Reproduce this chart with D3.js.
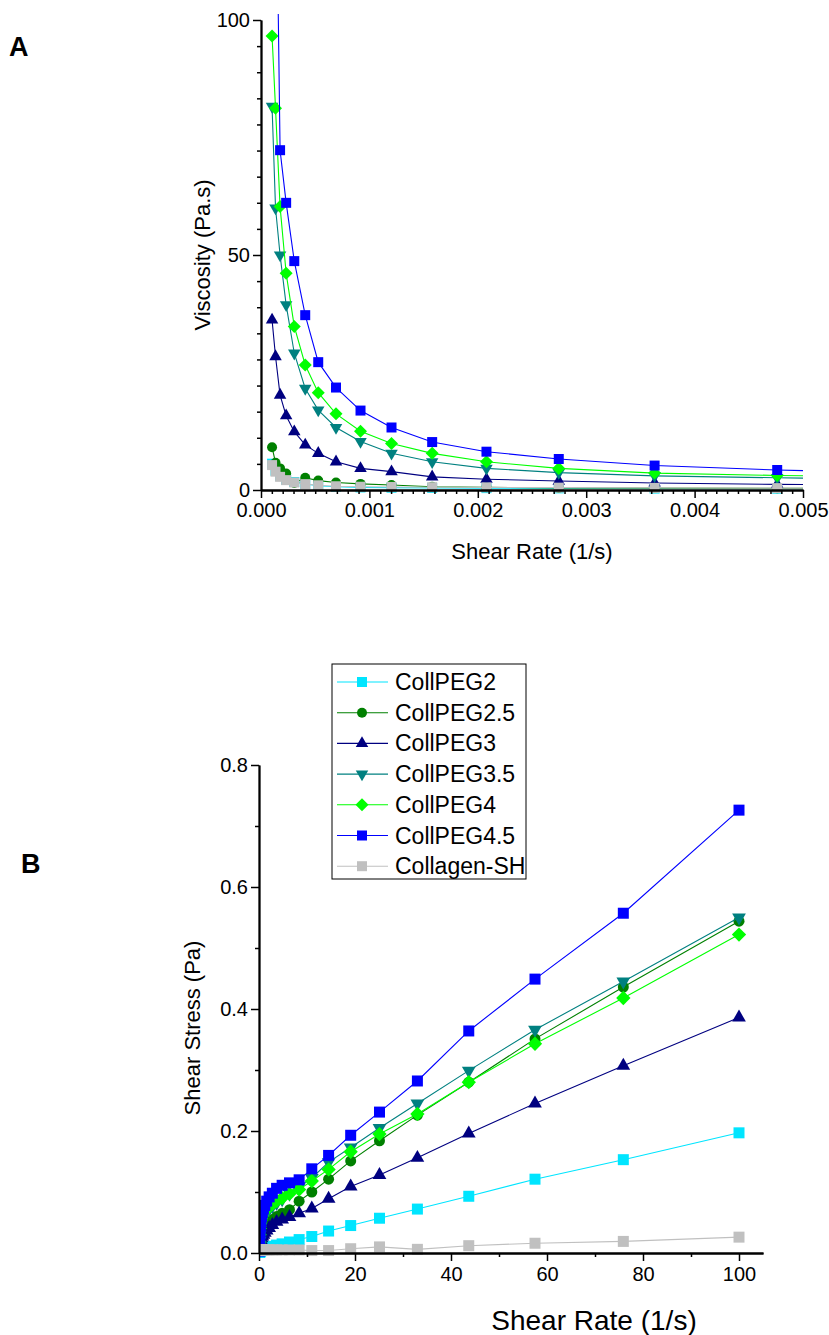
<!DOCTYPE html>
<html>
<head>
<meta charset="utf-8">
<script src="https://cdn.jsdelivr.net/npm/d3@7"></script>
<style>
  body { margin: 0; background: #fff; }
  svg { display: block; }
  text { font-family: "Liberation Sans", Arial, Helvetica, sans-serif; fill: #000; }
</style>
</head>
<body>
<svg id="chart" width="829" height="1335"></svg>
<script>
// ---- series definitions ----
const seriesNames  = ["CollPEG2", "CollPEG2.5", "CollPEG3", "CollPEG3.5", "CollPEG4", "CollPEG4.5", "Collagen-SH"];
const seriesColors = ["#00e5ff", "#008000", "#000080", "#008080", "#00ff00", "#0000ff", "#c0c0c0"];
const seriesShapes = ["square", "circle", "triangle", "triangleDown", "diamond", "square", "square"];

// ---- panel A: viscosity (Pa.s) vs shear rate (1/s) ----
const rateA = [0.000102, 0.000134, 0.000176, 0.000232, 0.000307, 0.000408, 0.000528, 0.000692,
               0.000918, 0.001204, 0.001579, 0.002080, 0.002747, 0.003631, 0.004762, 0.006280];
const viscPEG2   = [5.6, 4.1, 3.0, 2.2, 1.7, 1.3, 0.9, 0.7, 0.55, 0.5, 0.45, 0.4, 0.35, 0.3, 0.28, 0.25];
const viscPEG25  = [9.1, 5.8, 4.6, 3.5, 1.5, 2.6, 2.0, 1.6, 1.3, 1.06, 0.7, 0.57, 0.45, 0.4, 0.35, 0.3];
const viscPEG3   = [36.2, 28.4, 20.2, 15.8, 12.4, 9.6, 7.8, 6.0, 4.6, 3.9, 2.8, 2.3, 1.9, 1.5, 1.2, 1.0];
const viscPEG35  = [81.6, 60.0, 50.0, 39.4, 29.1, 21.6, 17.0, 13.3, 10.3, 7.8, 6.0, 4.6, 3.7, 3.0, 2.6, 2.1];
const viscPEG4   = [96.6, 81.2, 60.3, 46.1, 34.8, 26.6, 20.7, 16.2, 12.5, 9.9, 7.8, 6.0, 4.6, 3.6, 3.1, 2.6];
const viscPEG45  = [200, 145, 72.3, 61.1, 48.7, 37.2, 27.2, 21.8, 16.9, 13.3, 10.2, 8.15, 6.6, 5.2, 4.26, 3.4];
const viscColSH  = [5.3, 3.9, 2.8, 2.1, 1.6, 1.25, 1.0, 0.8, 0.7, 0.65, 0.6, 0.55, 0.5, 0.45, 0.4, 0.35];
const viscTicks  = [0, 50, 100];
const rateATicks = [0, 0.001, 0.002, 0.003, 0.004, 0.005];

// ---- panel B: shear stress (Pa) vs shear rate (1/s) ----
const rateB = [0.102, 0.134, 0.176, 0.232, 0.306, 0.403, 0.532, 0.70, 0.92, 1.21, 1.60, 2.11, 2.78,
               3.66, 4.82, 6.35, 8.36, 11.0, 14.5, 19.1, 25.1, 33.0, 43.7, 57.5, 75.9, 100];
const stressPEG2  = [0.001, 0.001, 0.002, 0.002, 0.003, 0.004, 0.004, 0.005, 0.006, 0.007, 0.008, 0.009, 0.011,
                     0.013, 0.015, 0.018, 0.022, 0.027, 0.036, 0.045, 0.057, 0.072, 0.093, 0.121, 0.153, 0.197];
const stressPEG25 = [0.004, 0.008, 0.012, 0.017, 0.022, 0.026, 0.030, 0.034, 0.038, 0.042, 0.046, 0.050, 0.055,
                     0.060, 0.065, 0.071, 0.085, 0.100, 0.121, 0.151, 0.184, 0.226, 0.280, 0.351, 0.436, 0.544];
const stressPEG3  = [0.003, 0.006, 0.010, 0.014, 0.018, 0.021, 0.024, 0.027, 0.030, 0.033, 0.037, 0.041, 0.046,
                     0.051, 0.055, 0.059, 0.065, 0.073, 0.089, 0.109, 0.128, 0.156, 0.196, 0.245, 0.307, 0.386];
const stressPEG35 = [0.010, 0.020, 0.030, 0.038, 0.044, 0.049, 0.053, 0.057, 0.060, 0.064, 0.068, 0.072, 0.077,
                     0.082, 0.088, 0.097, 0.109, 0.123, 0.149, 0.173, 0.205, 0.245, 0.299, 0.366, 0.445, 0.550];
const stressPEG4  = [0.018, 0.030, 0.040, 0.048, 0.053, 0.057, 0.060, 0.063, 0.066, 0.069, 0.072, 0.076, 0.080,
                     0.085, 0.090, 0.097, 0.104, 0.118, 0.137, 0.166, 0.195, 0.228, 0.280, 0.343, 0.418, 0.522];
const stressPEG45 = [0.003, 0.010, 0.022, 0.034, 0.044, 0.052, 0.060, 0.066, 0.072, 0.078, 0.085, 0.092, 0.098,
                     0.106, 0.111, 0.115, 0.120, 0.138, 0.160, 0.193, 0.231, 0.282, 0.364, 0.449, 0.557, 0.726];
const stressColSH = [0.004, 0.004, 0.005, 0.005, 0.005, 0.005, 0.005, 0.005, 0.005, 0.005, 0.005, 0.005, 0.005,
                     0.005, 0.005, 0.005, 0.005, 0.004, 0.004, 0.007, 0.010, 0.006, 0.012, 0.016, 0.019, 0.026];
const stressTicks = [0, 0.2, 0.4, 0.6, 0.8];
const rateBTicks  = [0, 20, 40, 60, 80, 100];

const viscSeries   = [viscPEG2, viscPEG25, viscPEG3, viscPEG35, viscPEG4, viscPEG45, viscColSH];
const stressSeries = [stressPEG2, stressPEG25, stressPEG3, stressPEG35, stressPEG4, stressPEG45, stressColSH];

const svg = d3.select("#chart");
const FONT = "Liberation Sans, Arial, sans-serif";

// marker path generator: s is the nominal width in px
function markerPath(shape, s) {
  switch (shape) {
    case "square":       return d3.symbol(d3.symbolSquare, s * s)();
    case "circle":       return d3.symbol(d3.symbolCircle, Math.PI * (s / 2) * (s / 2))();
    case "triangle":
    case "triangleDown": return d3.symbol(d3.symbolTriangle, 0.433 * (s * 1.25) * (s * 1.25))();
    case "diamond":      return d3.symbol(d3.symbolSquare, (s * 0.92) * (s * 0.92))();
  }
}
function markerRotate(shape) {
  if (shape === "triangleDown") return 180;
  if (shape === "diamond") return 45;
  return 0;
}

function axisStyle(g) {
  g.selectAll(".domain").attr("stroke", "#000").attr("stroke-width", 1.8);
  g.selectAll(".tick line").attr("stroke", "#000").attr("stroke-width", 1.5);
}

function drawSeries(xScale, yScale, xs, ys, clipId, markerSize) {
  const [x0, x1] = xScale.range();
  const [y0, y1] = yScale.range();
  svg.append("clipPath").attr("id", clipId)
    .append("rect").attr("x", x0).attr("y", y1 - 6).attr("width", x1 - x0).attr("height", y0 - y1 + 12);

  const plot = svg.append("g").attr("clip-path", `url(#${clipId})`);
  const line = d3.line().x((d, i) => xScale(xs[i])).y(d => yScale(d));

  ys.forEach((vals, si) => {
    const g = plot.append("g");
    g.append("path").datum(vals)
      .attr("d", line)
      .attr("fill", "none")
      .attr("stroke", seriesColors[si])
      .attr("stroke-width", 1.1);
    g.selectAll("path.m").data(vals).join("path")
      .attr("class", "m")
      .attr("d", markerPath(seriesShapes[si], markerSize))
      .attr("fill", seriesColors[si])
      .attr("transform", (d, i) => `translate(${xScale(xs[i])},${yScale(d)}) rotate(${markerRotate(seriesShapes[si])})`);
  });
}

// ================= Panel A =================
const xA = d3.scaleLinear().domain([0, 0.005]).range([261, 803]);
const yA = d3.scaleLinear().domain([0, 100]).range([490, 20]);

drawSeries(xA, yA, rateA, viscSeries, "clipA", 10);

// minor ticks: 8 between the y majors, 9 between the x majors
const minorYA = d3.range(1, 18).filter(k => k !== 9).map(k => k * 50 / 9);
svg.append("g").attr("transform", `translate(${xA(0)},0)`)
  .call(d3.axisLeft(yA).tickValues(minorYA).tickSize(4).tickFormat("").tickSizeOuter(0))
  .call(axisStyle);
const minorXA = d3.range(1, 50).filter(k => k % 10 !== 0).map(k => k * 0.0001);
svg.append("g").attr("transform", `translate(0,${yA(0)})`)
  .call(d3.axisBottom(xA).tickValues(minorXA).tickSize(4).tickFormat("").tickSizeOuter(0))
  .call(axisStyle);

const gyA = svg.append("g").attr("transform", `translate(${xA(0)},0)`)
  .call(d3.axisLeft(yA).tickValues(viscTicks).tickSize(8).tickPadding(3).tickSizeOuter(0))
  .call(axisStyle);
gyA.selectAll("text").attr("font-size", 20).attr("font-family", FONT);

const gxA = svg.append("g").attr("transform", `translate(0,${yA(0)})`)
  .call(d3.axisBottom(xA).tickValues(rateATicks).tickFormat(d3.format(".3f")).tickSize(8).tickPadding(5).tickSizeOuter(0))
  .call(axisStyle);
gxA.selectAll("text").attr("font-size", 20).attr("font-family", FONT);

svg.append("text")
  .attr("x", (xA.range()[0] + xA.range()[1]) / 2).attr("y", 559)
  .attr("text-anchor", "middle").attr("font-size", 22)
  .text("Shear Rate (1/s)");
svg.append("text")
  .attr("transform", `translate(210,${(yA.range()[0] + yA.range()[1]) / 2}) rotate(-90)`)
  .attr("text-anchor", "middle").attr("font-size", 22)
  .text("Viscosity (Pa.s)");
svg.append("text").attr("x", 9).attr("y", 56)
  .attr("font-size", 27).attr("font-weight", "bold").text("A");

// ================= Panel B =================
const xB = d3.scaleLinear().domain([0, 105]).range([259, 763]);
const yB = d3.scaleLinear().domain([0, 0.8]).range([1253, 765]);

drawSeries(xB, yB, rateB, stressSeries, "clipB", 11);

svg.append("g").attr("transform", `translate(${xB(0)},0)`)
  .call(d3.axisLeft(yB).tickValues([0.1, 0.3, 0.5, 0.7]).tickSize(4).tickFormat("").tickSizeOuter(0))
  .call(axisStyle);
svg.append("g").attr("transform", `translate(0,${yB(0)})`)
  .call(d3.axisBottom(xB).tickValues([10, 30, 50, 70, 90]).tickSize(4).tickFormat("").tickSizeOuter(0))
  .call(axisStyle);

const gyB = svg.append("g").attr("transform", `translate(${xB(0)},0)`)
  .call(d3.axisLeft(yB).tickValues(stressTicks).tickFormat(d3.format(".1f")).tickSize(8).tickPadding(3).tickSizeOuter(0))
  .call(axisStyle);
gyB.selectAll("text").attr("font-size", 20).attr("font-family", FONT);

const gxB = svg.append("g").attr("transform", `translate(0,${yB(0)})`)
  .call(d3.axisBottom(xB).tickValues(rateBTicks).tickSize(8).tickPadding(6).tickSizeOuter(0))
  .call(axisStyle);
gxB.selectAll("text").attr("font-size", 20).attr("font-family", FONT);

svg.append("text")
  .attr("x", 594).attr("y", 1330)
  .attr("text-anchor", "middle").attr("font-size", 28)
  .text("Shear Rate (1/s)");
svg.append("text")
  .attr("transform", `translate(200,${(yB.range()[0] + yB.range()[1]) / 2 + 19}) rotate(-90)`)
  .attr("text-anchor", "middle").attr("font-size", 22)
  .text("Shear Stress (Pa)");
svg.append("text").attr("x", 21).attr("y", 873)
  .attr("font-size", 27).attr("font-weight", "bold").text("B");

// ---- legend ----
const legend = svg.append("g").attr("transform", "translate(332,664)");
legend.append("rect").attr("x", 0).attr("y", 0).attr("width", 194).attr("height", 215)
  .attr("fill", "#fff").attr("stroke", "#000").attr("stroke-width", 1);
seriesNames.forEach((name, i) => {
  const cy = 18 + i * 30.7;
  const row = legend.append("g").attr("transform", `translate(0,${cy})`);
  row.append("line").attr("x1", 5).attr("x2", 56).attr("y1", 0).attr("y2", 0)
    .attr("stroke", seriesColors[i]).attr("stroke-width", 1.1);
  row.append("path").attr("d", markerPath(seriesShapes[i], 10))
    .attr("fill", seriesColors[i])
    .attr("transform", `translate(30,0) rotate(${markerRotate(seriesShapes[i])})`);
  row.append("text").attr("x", 63).attr("y", 8).attr("font-size", 23).text(name);
});
</script>
</body>
</html>
